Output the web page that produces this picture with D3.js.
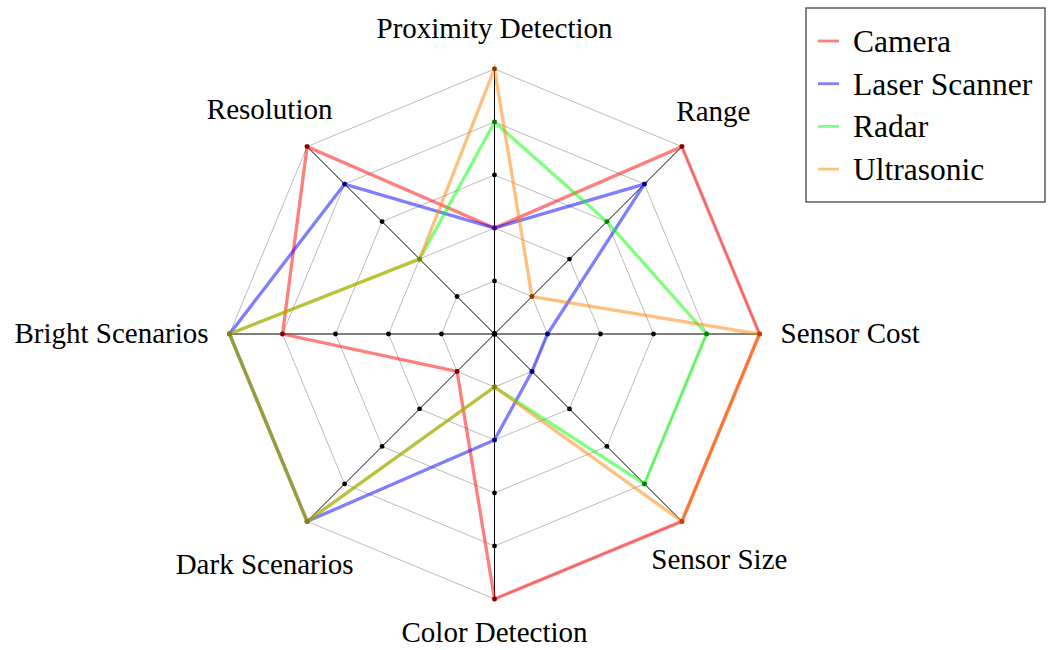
<!DOCTYPE html>
<html>
<head>
<meta charset="utf-8">
<script src="https://cdn.jsdelivr.net/npm/d3@7"></script>
<style>
  body { margin: 0; background: #fff; }
  svg text { font-family: "Liberation Serif", "Times New Roman", serif; fill: #000; }
</style>
</head>
<body>
<svg id="chart" width="1048" height="650"></svg>
<script>
// axes, clockwise from the top
var axesNames = ["Proximity Detection", "Range", "Sensor Cost", "Sensor Size",
                 "Color Detection", "Dark Scenarios", "Bright Scenarios", "Resolution"];
var levels = [0, 1, 2, 3, 4, 5];

var seriesNames = ["Camera", "Laser Scanner", "Radar", "Ultrasonic"];
var seriesColors = ["#ff0000", "#0000ff", "#00ff00", "#ff8000"];

var cameraValues     = [2, 5, 5, 5, 5, 1, 4, 5];
var laserValues      = [2, 4, 1, 1, 2, 5, 5, 4];
var radarValues      = [4, 3, 4, 4, 1, 5, 5, 2];
var ultrasonicValues = [5, 1, 5, 5, 1, 5, 5, 2];

var seriesValues = [cameraValues, laserValues, radarValues, ultrasonicValues];

var cx = 494.5, cy = 334, radius = 265;

var svg = d3.select("#chart");
var g = svg.append("g").attr("transform", "translate(" + cx + "," + cy + ")");

var r = d3.scaleLinear().domain([0, 5]).range([0, radius]);
var angle = d3.scaleLinear().domain([0, axesNames.length]).range([0, 2 * Math.PI]);

function px(i, v) { return Math.sin(angle(i)) * r(v); }
function py(i, v) { return -Math.cos(angle(i)) * r(v); }

var radial = d3.lineRadial()
  .angle(function(d, i) { return angle(i); })
  .radius(function(d) { return r(d); })
  .curve(d3.curveLinearClosed);

// grid octagons
g.selectAll("path.grid")
  .data(levels.slice(1))
  .enter()
  .append("path")
    .attr("class", "grid")
    .attr("d", function(l) { return radial(axesNames.map(function() { return l; })); })
    .attr("fill", "none")
    .attr("stroke", "#b3b3b3")
    .attr("stroke-width", 0.9);

// spokes
g.selectAll("line.spoke")
  .data(axesNames)
  .enter()
  .append("line")
    .attr("x1", 0).attr("y1", 0)
    .attr("x2", function(d, i) { return px(i, 5); })
    .attr("y2", function(d, i) { return py(i, 5); })
    .attr("stroke", "#000")
    .attr("stroke-width", 1);

// tick dots on every spoke
var tickDots = [];
axesNames.forEach(function(a, i) {
  levels.forEach(function(l) { tickDots.push({i: i, l: l}); });
});
g.selectAll("circle.tick")
  .data(tickDots)
  .enter()
  .append("circle")
    .attr("cx", function(d) { return px(d.i, d.l); })
    .attr("cy", function(d) { return py(d.i, d.l); })
    .attr("r", 2.4)
    .attr("fill", "#000");

// series
seriesValues.forEach(function(vals, s) {
  var sg = g.append("g").attr("opacity", 0.5);
  sg.append("path")
    .attr("d", radial(vals))
    .attr("fill", "none")
    .attr("stroke", seriesColors[s])
    .attr("stroke-width", 3.3)
    .attr("stroke-linejoin", "miter");
  sg.selectAll("circle")
    .data(vals)
    .enter()
    .append("circle")
      .attr("cx", function(d, i) { return px(i, d); })
      .attr("cy", function(d, i) { return py(i, d); })
      .attr("r", 2.5)
      .attr("fill", seriesColors[s]);
});

// axis labels
var labelSize = 29;
// small per-label vertical nudges (pixels)
var labelNudge = [0, 2, 0, 0, 2, 5, 0, 0];
g.selectAll("text.axis-label")
  .data(axesNames)
  .enter()
  .append("text")
    .attr("font-size", labelSize)
    .attr("text-anchor", function(d, i) {
      var s = Math.round(Math.sin(angle(i)) * 100) / 100;
      if (i % 2 == 1 || s == 0) return "middle";
      return s > 0 ? "start" : "end";
    })
    .attr("x", function(d, i) {
      if (i % 2 == 1) return Math.sin(angle(i)) * (radius + 53) + (i == 1 ? -6 : i == 5 ? -5 : 0);
      return Math.sin(angle(i)) * (radius + 21);
    })
    .attr("y", function(d, i) {
      var c = -Math.cos(angle(i));
      var y;
      if (i % 2 == 1) y = c * (radius + 53) + 10;
      else if (c < -0.5) y = -(radius + 31);
      else if (c > 0.5) y = radius + 41;
      else y = 9;
      return y + labelNudge[i];
    })
    .text(function(d) { return d; });

// legend
var legend = svg.append("g").attr("transform", "translate(806,8)");
legend.append("rect")
  .attr("x", 0).attr("y", 0)
  .attr("width", 239).attr("height", 194)
  .attr("fill", "#fff")
  .attr("stroke", "#333")
  .attr("stroke-width", 1.2);

var rows = legend.selectAll("g.row")
  .data(seriesNames)
  .enter()
  .append("g")
    .attr("transform", function(d, i) { return "translate(0," + (33 + i * 42.7) + ")"; });
rows.append("line")
  .attr("x1", 12).attr("x2", 33)
  .attr("y1", 0).attr("y2", 0)
  .attr("stroke", function(d, i) { return seriesColors[i]; })
  .attr("stroke-opacity", 0.5)
  .attr("stroke-width", 2.8);
rows.append("text")
  .attr("x", 47)
  .attr("y", 11)
  .attr("font-size", 31.5)
  .text(function(d) { return d; });
</script>
</body>
</html>
